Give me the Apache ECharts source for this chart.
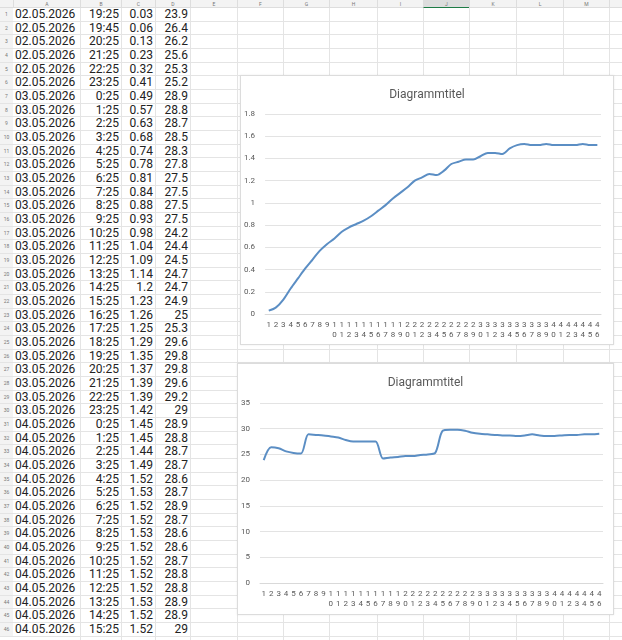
<!DOCTYPE html>
<html><head><meta charset="utf-8">
<script src="https://cdn.jsdelivr.net/npm/echarts@6/dist/echarts.min.js"></script>
<style>
body{margin:0;width:622px;height:640px;overflow:hidden;background:#fff;font-family:Roboto,sans-serif;position:relative}
.c{position:absolute;box-sizing:border-box;white-space:nowrap;overflow:hidden}
.chart{position:absolute;background:#fff;border:1px solid #dcdcdc;box-shadow:0 0 2px rgba(0,0,0,0.08)}
</style></head><body>
<div id="sheet"></div>
<div id="main1" class="chart" style="left:240px;top:75px;width:372px;height:268px"></div>
<div id="main2" class="chart" style="left:237px;top:363px;width:375px;height:250px"></div>
<script>
var dates = ['02.05.2026','02.05.2026','02.05.2026','02.05.2026','02.05.2026','02.05.2026',
  '03.05.2026','03.05.2026','03.05.2026','03.05.2026','03.05.2026','03.05.2026','03.05.2026','03.05.2026',
  '03.05.2026','03.05.2026','03.05.2026','03.05.2026','03.05.2026','03.05.2026','03.05.2026','03.05.2026',
  '03.05.2026','03.05.2026','03.05.2026','03.05.2026','03.05.2026','03.05.2026','03.05.2026','03.05.2026',
  '04.05.2026','04.05.2026','04.05.2026','04.05.2026','04.05.2026','04.05.2026','04.05.2026','04.05.2026',
  '04.05.2026','04.05.2026','04.05.2026','04.05.2026','04.05.2026','04.05.2026','04.05.2026','04.05.2026'];
var times = ['19:25','19:45','20:25','21:25','22:25','23:25','0:25','1:25','2:25','3:25','4:25','5:25',
  '6:25','7:25','8:25','9:25','10:25','11:25','12:25','13:25','14:25','15:25','16:25','17:25','18:25',
  '19:25','20:25','21:25','22:25','23:25','0:25','1:25','2:25','3:25','4:25','5:25','6:25','7:25',
  '8:25','9:25','10:25','11:25','12:25','13:25','14:25','15:25'];
var valuesC = [0.03,0.06,0.13,0.23,0.32,0.41,0.49,0.57,0.63,0.68,0.74,0.78,0.81,0.84,0.88,0.93,
  0.98,1.04,1.09,1.14,1.2,1.23,1.26,1.25,1.29,1.35,1.37,1.39,1.39,1.42,1.45,1.45,1.44,1.49,1.52,
  1.53,1.52,1.52,1.53,1.52,1.52,1.52,1.52,1.53,1.52,1.52];
var valuesD = [23.9,26.4,26.2,25.6,25.3,25.2,28.9,28.8,28.7,28.5,28.3,27.8,27.5,27.5,27.5,27.5,
  24.2,24.4,24.5,24.7,24.7,24.9,25,25.3,29.6,29.8,29.8,29.6,29.2,29,28.9,28.8,28.7,28.7,28.6,
  28.7,28.9,28.7,28.6,28.6,28.7,28.8,28.8,28.9,28.9,29];
var colNames = ['A','B','C','D','E','F','G','H','I','J','K','L','M',''];
var colEdges = [13,80,121,155,190,237,283,329,377,423,469,516,563,609,660];

// spreadsheet grid
var sheet = document.getElementById('sheet');
var rowH = 13.67, top0 = 8, html = '';
html += '<div class="c" style="left:0;top:0;width:622px;height:8px;background:#f3f3f3;border-bottom:1px solid #ddd"></div>';
for (var j = 0; j < colNames.length; j++) {
    var x = colEdges[j], w = colEdges[j + 1] - x;
    var sel = colNames[j] === 'J';
    html += '<div class="c" style="left:' + x + 'px;top:0;width:' + w + 'px;height:8px;border-left:1px solid #ddd;' +
        (sel ? 'background:#ddd;border-bottom:1px solid #1e7b45;' : '') +
        'font-size:5px;color:#777;text-align:center;line-height:8px">' + colNames[j] + '</div>';
}
for (var i = 0; i < dates.length; i++) {
    var y = top0 + i * rowH;
    html += '<div class="c" style="left:0;top:' + y + 'px;width:13px;height:' + rowH + 'px;background:#f3f3f3;border-bottom:1px solid #e4e4e4;font-size:5px;color:#777;text-align:center;line-height:' + rowH + 'px">' + (i + 1) + '</div>';
    html += '<div class="c" style="left:13px;top:' + y + 'px;width:609px;height:' + rowH + 'px;border-bottom:1px solid #e4e4e4"></div>';
    var cells = [dates[i], times[i], String(valuesC[i]), String(valuesD[i])];
    for (var k = 0; k < 4; k++) {
        var cx = colEdges[k], cw = colEdges[k + 1] - cx;
        html += '<div class="c" style="left:' + cx + 'px;top:' + y + 'px;width:' + cw + 'px;height:' + rowH + 'px;font-size:12px;color:#222;line-height:' + rowH + 'px;padding:0 2px;text-align:' + (k === 0 ? 'left' : 'right') + '">' + cells[k] + '</div>';
    }
}
for (var j = 1; j < colEdges.length - 1; j++) {
    html += '<div class="c" style="left:' + colEdges[j] + 'px;top:8px;width:1px;height:632px;background:#e4e4e4"></div>';
}
sheet.innerHTML = html;

var cats = dates.map(function (d, i) { return String(i + 1); });

function makeOption(values, max, interval, grid) {
    return {
        animation: false,
        title: {
            text: 'Diagrammtitel', left: 'center', top: 8,
            textStyle: {fontSize: 12, fontWeight: 'normal', color: '#595959', fontFamily: 'Roboto'}
        },
        grid: grid,
        xAxis: {
            type: 'category', data: cats, boundaryGap: true,
            axisLine: {lineStyle: {color: '#d9d9d9'}}, axisTick: {show: false},
            axisLabel: {
                interval: 0, color: '#595959', fontSize: 8, lineHeight: 10, margin: 6,
                verticalAlign: 'top', fontFamily: 'Roboto',
                formatter: function (v) { return v.split('').join('\n'); }
            }
        },
        yAxis: {
            type: 'value', min: 0, max: max, interval: interval,
            axisLine: {show: false}, axisTick: {show: false},
            splitLine: {lineStyle: {color: '#e3e3e3'}},
            axisLabel: {color: '#595959', fontSize: 8, margin: 10, fontFamily: 'Roboto'}
        },
        series: [{
            type: 'line', data: values, smooth: 0.3, symbol: 'none',
            lineStyle: {color: '#5b8ec4', width: 2}
        }]
    };
}

var myChart1 = echarts.init(document.getElementById('main1'));
myChart1.setOption(makeOption(valuesC, 1.8, 0.2, {left: 22, right: 12, top: 38, bottom: 30}));
var myChart2 = echarts.init(document.getElementById('main2'));
myChart2.setOption(makeOption(valuesD, 35, 5, {left: 18, right: 10, top: 39, bottom: 31}));
</script>
</body></html>
